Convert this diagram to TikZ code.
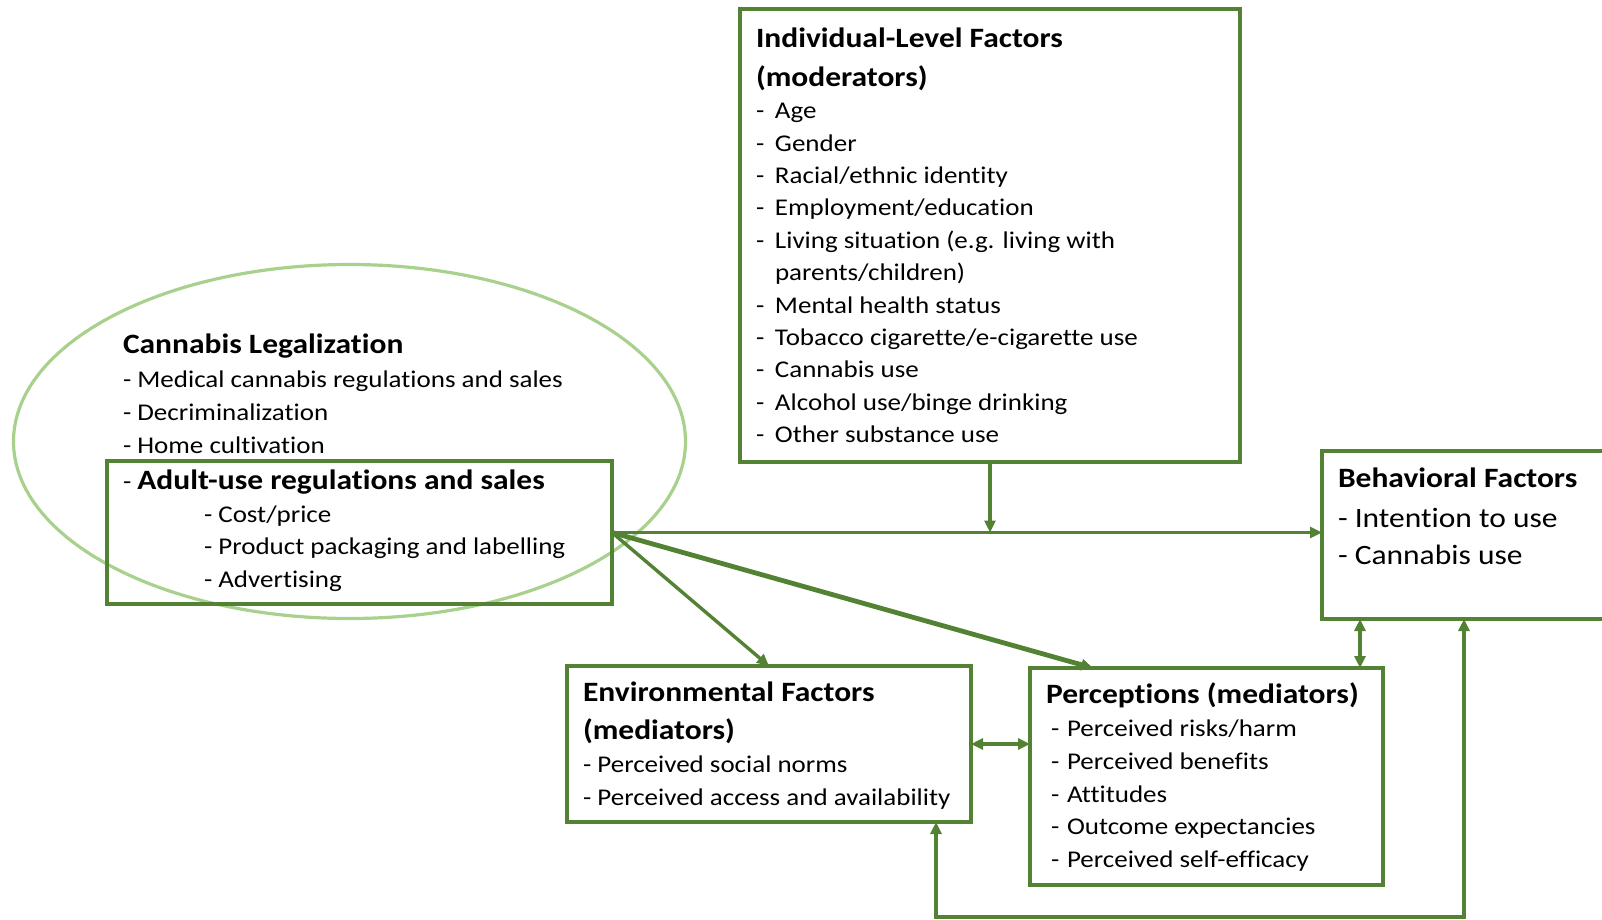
\documentclass[tikz,border=0pt]{standalone}
\usepackage{fontspec}
\setmainfont{Carlito}[FakeStretch=1.125,Ligatures=NoCommon]
\usetikzlibrary{arrows.meta,calc,shapes.geometric}
\definecolor{boxgreen}{HTML}{548235}
\definecolor{ringgreen}{HTML}{A9D18E}
\newcommand{\itemfont}{\fontsize{24}{32.7}\selectfont}
\newcommand{\indivfont}{\fontsize{24}{32.4}\selectfont}
\newcommand{\headfont}{\fontsize{28}{32.7}\selectfont\bfseries}
\newcommand{\dashitem}[1]{\makebox[19pt][l]{-}#1}
\newcommand{\pdashitem}[1]{\makebox[16pt][l]{-}#1}

\begin{document}
\begin{tikzpicture}[x=1pt,y=-1pt,
  frame/.style={draw=boxgreen,line width=3.5pt,rectangle,inner sep=0pt,outer sep=0pt},
  ring/.style={draw=ringgreen,line width=3.2pt,ellipse,inner sep=0pt,outer sep=0pt},
  link/.style={draw=boxgreen,line width=3.4pt,-{Triangle[length=12pt,width=11pt]}},
  twoway/.style={draw=boxgreen,line width=3.4pt,{Triangle[length=12pt,width=11pt]}-{Triangle[length=12pt,width=11pt]}},
  txt/.style={inner sep=0pt,outer sep=0pt,anchor=base west,text=black}]
\useasboundingbox (0,0) rectangle (1602,920);

% legalization ring and the adult-use box inside it
\node[ring,minimum width=672pt,minimum height=354pt] (legal) at (349.5,441.5) {};
\node[frame,minimum width=505pt,minimum height=143pt] (adult) at (359.5,532.5) {};

% remaining boxes
\node[frame,minimum width=500pt,minimum height=453pt] (indiv) at (990,235.5) {};
\node[frame,minimum width=300pt,minimum height=168pt] (behav) at (1472,535) {};
\node[frame,minimum width=404pt,minimum height=156pt] (env) at (769,744) {};
\node[frame,minimum width=353pt,minimum height=217pt] (perc) at (1206.5,776.5) {};

% box texts
\node[txt] (legaltxt) at (123,353) {\itemfont\begin{tabular}[t]{@{}l@{}}
{\headfont Cannabis Legalization}\\[2pt]
- Medical cannabis regulations and sales\\
- Decriminalization\\
- Home cultivation\\[3.5pt]
- {\headfont Adult-use regulations and sales}\\
\hspace{81pt}- Cost/price\\
\hspace{81pt}- Product packaging and labelling\\
\hspace{81pt}- Advertising
\end{tabular}};

\node[txt] (indivtxt) at (756,48) {\indivfont\begin{tabular}[t]{@{}l@{}}
{\headfont Individual-Level Factors}\\[6pt]
{\headfont (moderators)}\\[0pt]
\dashitem{Age}\\
\dashitem{Gender}\\
\dashitem{Racial/ethnic identity}\\
\dashitem{Employment/education}\\
\dashitem{Living situation (e.g. living with}\\
\hspace{19pt}parents/children)\\
\dashitem{Mental health status}\\
\dashitem{Tobacco cigarette/e-cigarette use}\\
\dashitem{Cannabis use}\\
\dashitem{Alcohol use/binge drinking}\\
\dashitem{Other substance use}
\end{tabular}};

\node[txt] (behavtxt) at (1338,487) {\fontsize{28}{37}\selectfont\begin{tabular}[t]{@{}l@{}}
{\headfont Behavioral Factors}\\[3pt]
- Intention to use\\
- Cannabis use
\end{tabular}};

\node[txt] (envtxt) at (583,701) {\itemfont\begin{tabular}[t]{@{}l@{}}
{\headfont Environmental Factors}\\[6pt]
{\headfont (mediators)}\\
- Perceived social norms\\
- Perceived access and availability
\end{tabular}};

\node[txt] (perctxt) at (1046,703) {\itemfont\begin{tabular}[t]{@{}l@{}}
{\headfont Perceptions (mediators)}\\[1pt]
\hspace{5pt}\pdashitem{Perceived risks/harm}\\
\hspace{5pt}\pdashitem{Perceived benefits}\\
\hspace{5pt}\pdashitem{Attitudes}\\
\hspace{5pt}\pdashitem{Outcome expectancies}\\
\hspace{5pt}\pdashitem{Perceived self-efficacy}
\end{tabular}};

% connectors
\coordinate (hub) at (adult.east);
\draw[link] (hub) -- (hub -| behav.west);
\draw[link] (indiv.south) -- (indiv.south |- hub);
\draw[link] (hub) -- (env.north);
\draw[link,line width=4.8pt] (hub) -- ($(perc.north west)+(63,0)$);
\draw[twoway] (env.east) -- (env.east -| perc.west);
\coordinate (bp) at ($(perc.north east)+(-23,0)$);
\draw[twoway] (bp) -- (bp |- behav.south);
\coordinate (loopR) at ($(behav.south west)+(142,0)$);
\coordinate (loopL) at ($(env.south east)+(-35,0)$);
\coordinate (loopBase) at (0,917);
\draw[twoway] (loopR) -- (loopR |- loopBase) -- (loopL |- loopBase) -- (loopL);
\end{tikzpicture}
\end{document}
